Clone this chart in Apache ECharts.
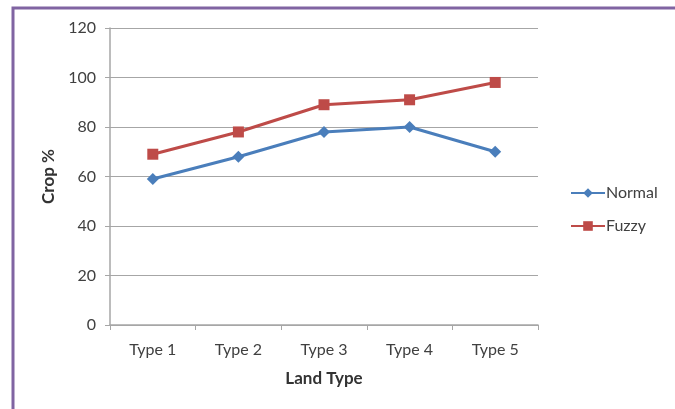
<!DOCTYPE html>
<html>
<head>
<meta charset="utf-8">
<script src="https://cdn.jsdelivr.net/npm/echarts@6/dist/echarts.min.js"></script>
<style>
html, body { margin: 0; padding: 0; background: #fff; }
#main { width: 675px; height: 409px; }
</style>
</head>
<body>
<div id="main"></div>
<script>
// data
var categories = ['Type 1', 'Type 2', 'Type 3', 'Type 4', 'Type 5'];
var normalValues = [59, 68, 78, 80, 70];
var fuzzyValues = [69, 78, 89, 91, 98];

var myChart = echarts.init(document.getElementById('main'));

var font = 'Lato, "Open Sans", sans-serif';

var option = {
    animation: false,
    textStyle: { fontFamily: font, color: '#404040' },
    graphic: [{
        type: 'rect',
        shape: { x: 13, y: 8, width: 700, height: 450 },
        style: { fill: 'none', stroke: '#8064a2', lineWidth: 3 }
    }],
    grid: { left: 110, right: 137, top: 28, bottom: 84 },
    legend: {
        orient: 'vertical',
        left: 565,
        top: 180,
        itemGap: 17,
        itemWidth: 34,
        itemHeight: 12,
        textStyle: { fontSize: 16, color: '#404040', fontFamily: font, padding: [0, 0, 0, -4] },
        data: ['Normal', 'Fuzzy']
    },
    xAxis: {
        type: 'category',
        data: categories,
        name: 'Land Type',
        nameLocation: 'middle',
        nameGap: 45,
        nameTextStyle: { fontWeight: 'bold', fontSize: 17, color: '#333' },
        axisLine: { lineStyle: { color: '#a6a6a6', width: 1.5 } },
        axisTick: { show: true, length: 5, lineStyle: { color: '#a6a6a6' } },
        axisLabel: { fontSize: 16, color: '#404040', margin: 17 }
    },
    yAxis: {
        type: 'value',
        min: 0,
        max: 120,
        interval: 20,
        name: 'Crop %',
        nameLocation: 'middle',
        nameGap: 53,
        nameTextStyle: { fontWeight: 'bold', fontSize: 17, color: '#333' },
        axisLine: { show: true, lineStyle: { color: '#a6a6a6', width: 1.5 } },
        axisTick: { show: true, length: 5, lineStyle: { color: '#a6a6a6' } },
        axisLabel: { fontSize: 16, color: '#404040', margin: 14 },
        splitLine: { lineStyle: { color: '#a6a6a6' } }
    },
    series: [
        {
            name: 'Normal',
            type: 'line',
            data: normalValues,
            symbol: 'diamond',
            symbolSize: 12,
            lineStyle: { width: 3, color: '#4a7ebb' },
            itemStyle: { color: '#4a7ebb' }
        },
        {
            name: 'Fuzzy',
            type: 'line',
            data: fuzzyValues,
            symbol: 'rect',
            symbolSize: 11,
            lineStyle: { width: 3, color: '#be4b48' },
            itemStyle: { color: '#be4b48' }
        }
    ]
};

myChart.setOption(option);

window.addEventListener('resize', function () {
    myChart.resize();
});
</script>
</body>
</html>
